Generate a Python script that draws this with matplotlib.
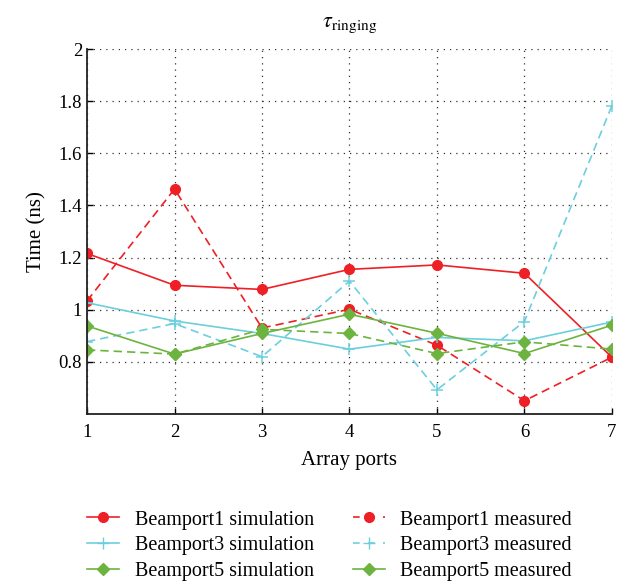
import matplotlib.pyplot as plt
from matplotlib.lines import Line2D

plt.rcParams['font.family'] = ['Liberation Serif', 'DejaVu Serif']
plt.rcParams['mathtext.fontset'] = 'stix'

ports = [1, 2, 3, 4, 5, 6, 7]

bp1_sim = [1.216, 1.094, 1.078, 1.155, 1.172, 1.140, 0.818]
bp1_meas = [1.034, 1.463, 0.930, 1.002, 0.864, 0.651, 0.818]
bp3_sim = [1.027, 0.957, 0.909, 0.849, 0.894, 0.881, 0.953]
bp3_meas = [0.878, 0.947, 0.820, 1.110, 0.693, 0.955, 1.783]
bp5_sim = [0.938, 0.830, 0.909, 0.983, 0.910, 0.832, 0.941]
bp5_meas = [0.846, 0.830, 0.925, 0.909, 0.832, 0.877, 0.849]

yticks = [0.8, 1.0, 1.2, 1.4, 1.6, 1.8, 2.0]
ytick_labels = ['0.8', '1', '1.2', '1.4', '1.6', '1.8', '2']

red = '#ee2026'
cyan = '#6ccfde'
green = '#6cb43f'

fig = plt.figure(figsize=(6.32, 5.84), dpi=100)
ax = fig.add_axes([0.1377, 0.291, 0.8305, 0.625])

ax.plot(ports, bp1_sim, '-', color=red, lw=1.2, marker='o', ms=7)
ax.plot(ports, bp1_meas, '--', color=red, lw=1.2, marker='o', ms=7, dashes=(5, 3))
ax.plot(ports, bp3_sim, '-', color=cyan, lw=1.2, marker='+', ms=9, mew=1.1)
ax.plot(ports, bp3_meas, '--', color=cyan, lw=1.2, marker='+', ms=9, mew=1.1, dashes=(5, 3))
ax.plot(ports, bp5_sim, '-', color=green, lw=1.2, marker='D', ms=6.5)
ax.plot(ports, bp5_meas, '--', color=green, lw=1.2, marker='D', ms=6.5, dashes=(5, 3))

ax.set_xlim(1, 7)
ax.set_ylim(0.6, 2.0)
ax.set_xticks(ports)
ax.set_yticks(yticks)
ax.set_yticklabels(ytick_labels)
ax.tick_params(direction='in', length=4, labelsize=13.5, width=1)
ax.tick_params(axis='x', pad=7)
ax.grid(True, linestyle=(0, (1, 4)), color='#333333', lw=0.9)
ax.spines['top'].set_visible(False)
ax.spines['right'].set_visible(False)
for s in ('left', 'bottom'):
    ax.spines[s].set_linewidth(1.3)
    ax.spines[s].set_color('#222222')

ax.set_xlabel('Array ports', fontsize=15, labelpad=7)
ax.set_ylabel('Time (ns)', fontsize=15, labelpad=9)
ax.set_title(r'$\tau_{\rm ringing}$', fontsize=16, pad=16)

# legend: the measured Beamport5 entry is drawn with a solid line
handles = [
    Line2D([], [], color=red, lw=1.2, marker='o', ms=7),
    Line2D([], [], color=cyan, lw=1.2, marker='+', ms=9),
    Line2D([], [], color=green, lw=1.2, marker='D', ms=6.5),
    Line2D([], [], color=red, lw=1.2, ls='--', dashes=(4, 5), marker='o', ms=7),
    Line2D([], [], color=cyan, lw=1.2, ls='--', dashes=(4, 5), marker='+', ms=9),
    Line2D([], [], color=green, lw=1.2, marker='D', ms=6.5),
]
labels = ['Beamport1 simulation', 'Beamport3 simulation', 'Beamport5 simulation',
          'Beamport1 measured', 'Beamport3 measured', 'Beamport5 measured']
fig.legend(handles, labels, ncol=2, loc='upper left', bbox_to_anchor=(0.138, 0.126),
           frameon=False, fontsize=14.5, handlelength=1.6, handletextpad=0.75,
           columnspacing=1.95, labelspacing=0.33, borderaxespad=0, borderpad=0)

fig.savefig('out.png', dpi=100)
